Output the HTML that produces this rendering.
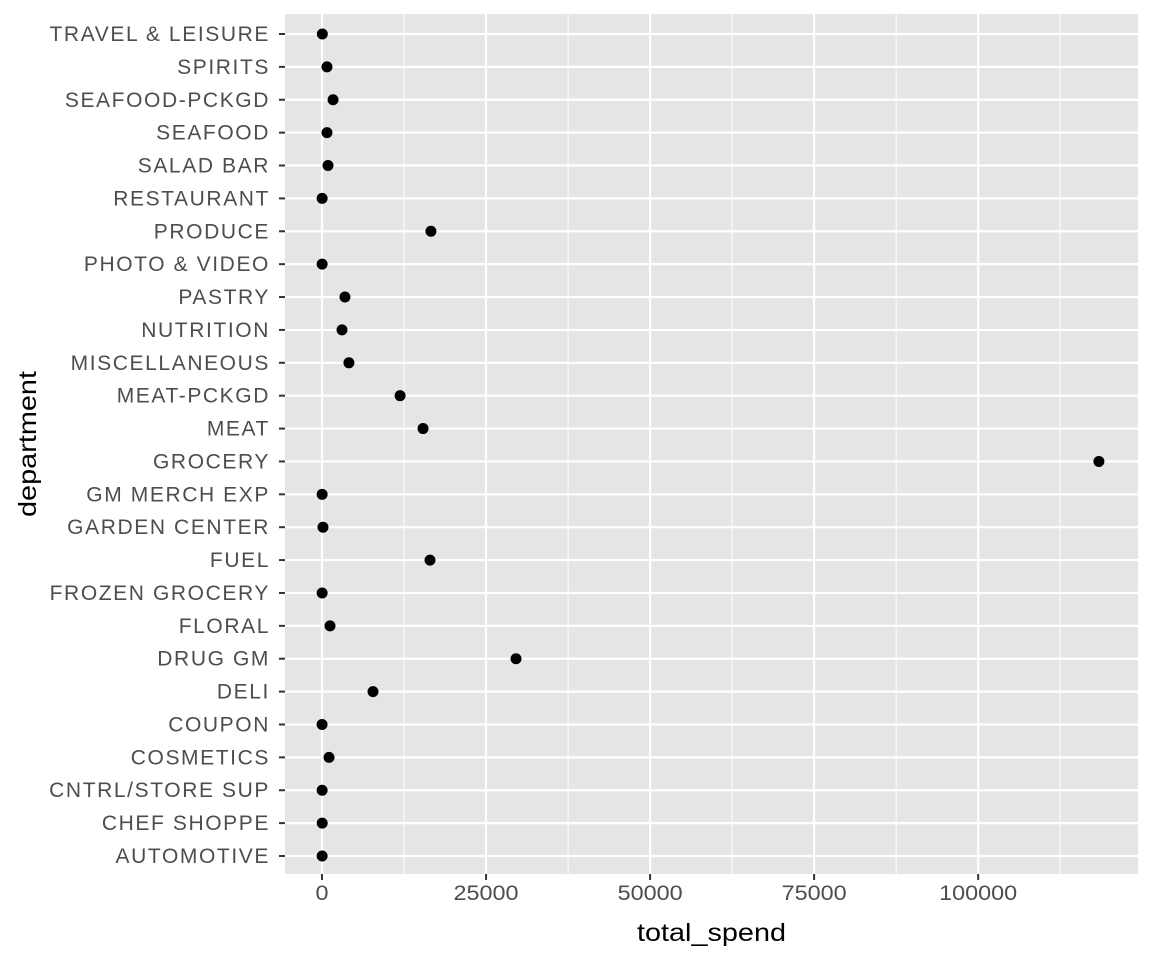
<!DOCTYPE html>
<html><head><meta charset="utf-8"><style>
body{margin:0;background:#fff;}
svg text{font-family:"Liberation Sans",Arial,sans-serif;}
</style></head><body>
<svg id="chart" width="1152" height="960" xmlns="http://www.w3.org/2000/svg"></svg>
<script>
const categories=["AUTOMOTIVE","CHEF SHOPPE","CNTRL/STORE SUP","COSMETICS","COUPON","DELI","DRUG GM","FLORAL","FROZEN GROCERY","FUEL","GARDEN CENTER","GM MERCH EXP","GROCERY","MEAT","MEAT-PCKGD","MISCELLANEOUS","NUTRITION","PASTRY","PHOTO & VIDEO","PRODUCE","RESTAURANT","SALAD BAR","SEAFOOD","SEAFOOD-PCKGD","SPIRITS","TRAVEL & LEISURE"];
const values=[20,30,20,1070,10,7770,29570,1220,20,16460,150,20,118400,15400,11900,4100,3050,3500,20,16600,20,915,760,1680,760,50];
const xTicks=[0,25000,50000,75000,100000];
const xMinor=[12500,37500,62500,87500,112500];
const NS="http://www.w3.org/2000/svg";
const svg=document.getElementById('chart');
const P={l:285,r:1138,t:14,b:874};
const xMin=-5640,xMax=124360;
const x=v=>P.l+(v-xMin)/(xMax-xMin)*(P.r-P.l);
const yStep=(856-34)/(categories.length-1);
const y=i=>856-i*yStep;
function mk(t,a,txt){const e=document.createElementNS(NS,t);for(const k in a)e.setAttribute(k,a[k]);if(txt!==undefined)e.textContent=txt;svg.appendChild(e);return e;}
let e=mk('rect',{x:P.l,y:P.t,width:P.r-P.l,height:P.b-P.t,fill:'#e5e5e5'});


xMinor.forEach(v=>{const g=mk('line',{x1:x(v),x2:x(v),y1:P.t,y2:P.b,stroke:'#fff','stroke-width':1});

});
xTicks.forEach(v=>{const g=mk('line',{x1:x(v),x2:x(v),y1:P.t,y2:P.b,stroke:'#fff','stroke-width':2.2});


const t=mk('line',{x1:x(v),x2:x(v),y1:P.b,y2:P.b+6,stroke:'#333','stroke-width':2});


const l=mk('text',{x:x(v),y:P.b+26,'text-anchor':'middle','font-size':21,fill:'#4d4d4d','textLength':String(v).length*13,'lengthAdjust':'spacingAndGlyphs'},String(v));

});
categories.forEach((c,i)=>{const g=mk('line',{x1:P.l,x2:P.r,y1:y(i),y2:y(i),stroke:'#fff','stroke-width':2.2});


const t=mk('line',{x1:P.l-6,x2:P.l,y1:y(i),y2:y(i),stroke:'#333','stroke-width':2});


const l=mk('text',{x:P.l-15,y:y(i)+7,'text-anchor':'end','font-size':21,fill:'#4d4d4d','letter-spacing':'1.6'},c);

});
categories.forEach((c,i)=>{const p=mk('circle',{cx:x(values[i]),cy:y(i),r:5.5,fill:'#000'});

});
e=mk('text',{x:(P.l+P.r)/2,y:941,'text-anchor':'middle','font-size':25,fill:'#000','textLength':149,'lengthAdjust':'spacingAndGlyphs'},'total_spend');


e=mk('text',{x:0,y:0,'text-anchor':'middle','font-size':25,fill:'#000','textLength':146,'lengthAdjust':'spacingAndGlyphs',transform:`translate(36,${(P.t+P.b)/2}) rotate(-90)`},'department');


</script>
</body></html>
